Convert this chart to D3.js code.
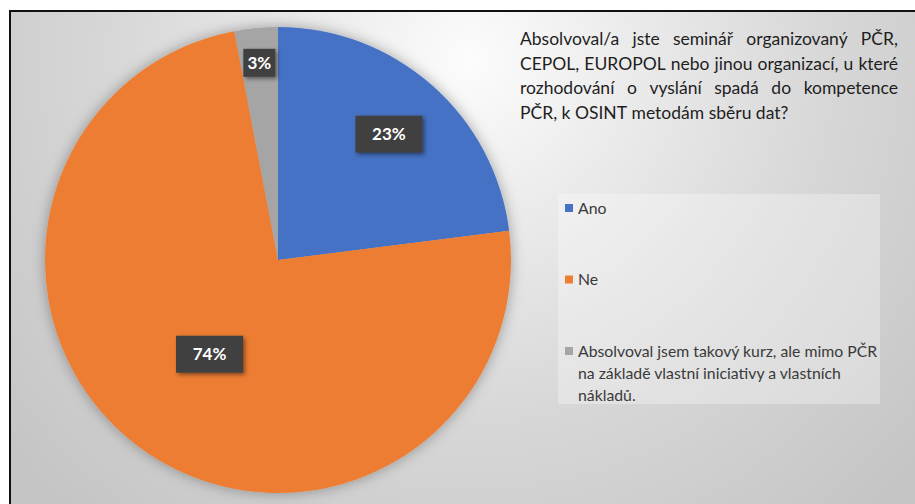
<!DOCTYPE html>
<html>
<head>
<meta charset="utf-8">
<script src="https://cdn.jsdelivr.net/npm/d3@7"></script>
<style>
  html, body { margin: 0; padding: 0; background: #ffffff; }
  svg { display: block; }
</style>
</head>
<body>
<script>
// Survey answers and their shares (percent)
const categories = [
  "Ano",
  "Ne",
  "Absolvoval jsem takový kurz, ale mimo PČR na základě vlastní iniciativy a vlastních nákladů."
];
const shares = [23, 74, 3];
const sliceColors = ["#4472C4", "#ED7D31", "#A5A5A5"];

// Question text, broken into its printed lines
const titleLines = [
  "Absolvoval/a jste seminář organizovaný PČR,",
  "CEPOL, EUROPOL nebo jinou organizací, u které",
  "rozhodování o vyslání spadá do kompetence",
  "PČR, k OSINT metodám sběru dat?"
];
// Legend entries wrapped into lines
const legendLines = [
  ["Ano"],
  ["Ne"],
  ["Absolvoval jsem takový kurz, ale mimo PČR",
   "na základě vlastní iniciativy a vlastních",
   "nákladů."]
];

const W = 915, H = 504;
const FONT = "Lato, 'Open Sans', 'Liberation Sans', sans-serif";

const svg = d3.select("body").append("svg")
  .attr("width", W).attr("height", H)
  .attr("viewBox", `0 0 ${W} ${H}`);

const defs = svg.append("defs");

// Soft grey radial background of the chart area
const bg = defs.append("radialGradient")
  .attr("id", "bgGrad")
  .attr("gradientUnits", "userSpaceOnUse")
  .attr("cx", 470).attr("cy", 60).attr("r", 600);
[[0, "#fcfcfc"], [0.25, "#ececec"], [0.6, "#d7d7d7"], [1, "#c5c5c5"]]
  .forEach(([o, c]) => bg.append("stop").attr("offset", o).attr("stop-color", c));

const pieShadow = defs.append("filter").attr("id", "pieShadow")
  .attr("x", "-20%").attr("y", "-20%").attr("width", "140%").attr("height", "140%");
pieShadow.append("feDropShadow")
  .attr("dx", 0).attr("dy", 0).attr("stdDeviation", 7)
  .attr("flood-color", "#000").attr("flood-opacity", 0.33);

const boxShadow = defs.append("filter").attr("id", "boxShadow")
  .attr("x", "-30%").attr("y", "-30%").attr("width", "160%").attr("height", "160%");
boxShadow.append("feDropShadow")
  .attr("dx", 2).attr("dy", 2).attr("stdDeviation", 2)
  .attr("flood-color", "#000").attr("flood-opacity", 0.45);

// Chart frame: background plus the dark outline
svg.append("rect")
  .attr("x", 10).attr("y", 11).attr("width", W).attr("height", H)
  .attr("fill", "url(#bgGrad)")
  .attr("stroke", "#111").attr("stroke-width", 2);

// ---- Pie ----
const cx = 278, cy = 260, R = 233;
const pie = d3.pie().sort(null).value(d => d)(shares);
const arc = d3.arc().innerRadius(0).outerRadius(R);
const color = d3.scaleOrdinal().domain(categories).range(sliceColors);

const gPie = svg.append("g")
  .attr("transform", `translate(${cx},${cy})`);

gPie.append("g").attr("filter", "url(#pieShadow)")
  .selectAll("path")
  .data(pie)
  .join("path")
  .attr("d", arc)
  .attr("fill", (d, i) => color(categories[i]));

// Data labels: dark boxes placed along each slice's bisector
const labelRadiusFrac = [0.72, 0.50, 0.85];
const labels = gPie.append("g").selectAll("g")
  .data(pie)
  .join("g")
  .attr("transform", (d, i) => {
    const r = R * labelRadiusFrac[i];
    const a = (d.startAngle + d.endAngle) / 2;
    return `translate(${r * Math.sin(a)},${-r * Math.cos(a)})`;
  });

labels.each(function (d, i) {
  const g = d3.select(this);
  const txt = g.append("text")
    .attr("text-anchor", "middle")
    .attr("dy", "0.36em")
    .attr("font-family", FONT)
    .attr("font-weight", "bold")
    .attr("font-size", 17)
    .attr("fill", "#ffffff")
    .text(d.value + "%");
  const tw = txt.node().getComputedTextLength();
  const bw = d.value < 10 ? 32 : 67;
  const bh = d.value < 10 ? 28 : 37;
  g.insert("rect", "text")
    .attr("x", -bw / 2).attr("y", -bh / 2)
    .attr("width", bw).attr("height", bh)
    .attr("fill", "#404040")
    .attr("filter", "url(#boxShadow)");
});

// ---- Question text, justified ----
const titleX0 = 520, titleX1 = 898, titleY0 = 45, titleStep = 24.5;
const gTitle = svg.append("g")
  .attr("font-family", FONT).attr("font-size", 17.5).attr("fill", "#1e1e1e");

function wordWidth(w) {
  const t = gTitle.append("text").text(w);
  const len = t.node().getComputedTextLength();
  t.remove();
  return len;
}

const spaceW = wordWidth("a a") - wordWidth("aa");
titleLines.forEach((line, li) => {
  const y = titleY0 + li * titleStep;
  const words = line.split(" ");
  const last = li === titleLines.length - 1;
  const widths = words.map(wordWidth);
  const total = d3.sum(widths);
  let gap = last ? spaceW : (titleX1 - titleX0 - total) / (words.length - 1);
  let scale = 1;
  if (!last && gap < spaceW * 0.6) {
    // tighten glyphs a little if the font runs wider than the text box
    gap = spaceW * 0.6;
    scale = (titleX1 - titleX0 - gap * (words.length - 1)) / total;
  }
  let x = titleX0;
  const t = gTitle.append("text").attr("y", y);
  words.forEach((w, wi) => {
    const ts = t.append("tspan").attr("x", x).text(w);
    if (scale !== 1) ts.attr("textLength", widths[wi] * scale).attr("lengthAdjust", "spacingAndGlyphs");
    x += widths[wi] * scale + gap;
  });
});

// ---- Legend ----
const legend = svg.append("g");
legend.append("rect")
  .attr("x", 558).attr("y", 194).attr("width", 322).attr("height", 210)
  .attr("fill", "#ffffff").attr("fill-opacity", 0.3);

const legendY = d3.scalePoint().domain(categories).range([208, 351]);
const items = legend.selectAll("g.item")
  .data(categories)
  .join("g")
  .attr("class", "item")
  .attr("transform", d => `translate(565,${legendY(d)})`);

items.append("rect")
  .attr("x", 0).attr("y", -4).attr("width", 8).attr("height", 8)
  .attr("fill", d => color(d));

items.append("text")
  .attr("font-family", FONT).attr("font-size", 15.8).attr("fill", "#3a3a3a")
  .selectAll("tspan")
  .data((d, i) => legendLines[i])
  .join("tspan")
  .attr("x", 13)
  .attr("y", (d, j) => j * 22)
  .attr("dy", "0.35em")
  .text(d => d);
</script>
</body>
</html>
